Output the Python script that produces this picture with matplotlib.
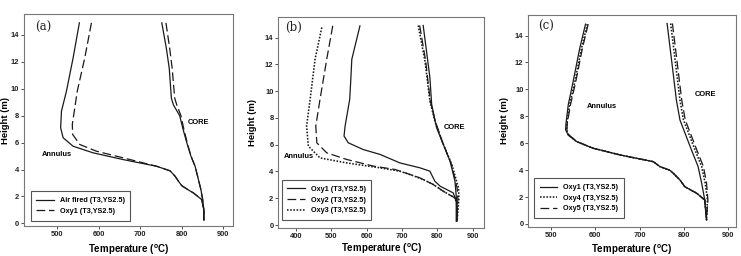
import matplotlib
matplotlib.use("Agg")
import matplotlib.pyplot as plt

plt.rcParams['font.family'] = ['Liberation Sans', 'DejaVu Sans']
plt.rcParams['font.weight'] = 'bold'

# ---------------- Panel (a) ----------------
a_air_ann_h = [14.9, 12.3, 9.83, 8.34, 7.1, 6.36, 5.73, 5.24, 4.74, 4.24, 3.9, 3.5, 3.13, 2.8, 2.5, 2.26, 1.76, 1.0, 0.25]
a_air_ann_t = [554, 539, 523, 511, 509, 515, 539, 587, 659, 740, 772, 784, 792, 800, 815, 828, 848, 853, 853]
a_oxy1_ann_h = [14.9, 12.3, 9.83, 7.35, 6.6, 5.86, 5.36, 4.87, 4.24, 3.9, 3.5, 3.13, 2.8, 2.5, 2.26, 1.76, 1.0, 0.25]
a_oxy1_ann_t = [583, 567, 549, 537, 538, 555, 595, 659, 740, 772, 784, 792, 800, 815, 828, 848, 853, 853]
a_air_core_h = [14.9, 13.0, 11.5, 9.3, 8.8, 8.0, 7.0, 6.0, 5.0, 4.24, 3.5, 2.5, 1.8, 1.0, 0.25]
a_air_core_t = [752, 763, 770, 775, 780, 795, 803, 812, 822, 832, 838, 846, 850, 853, 853]
a_oxy1_core_h = [14.9, 13.0, 11.5, 9.3, 8.8, 8.0, 7.0, 6.0, 5.0, 4.24, 3.5, 2.5, 1.8, 1.0, 0.25]
a_oxy1_core_t = [762, 771, 777, 783, 788, 798, 805, 813, 822, 832, 838, 846, 850, 853, 853]

# ---------------- Panel (b) ----------------
b_oxy1_ann_h = [14.87, 12.38, 10.8, 9.38, 7.39, 6.64, 6.14, 5.64, 5.27, 4.64, 4.27, 4.02, 3.27, 2.9, 2.4, 1.77, 0.28]
b_oxy1_ann_t = [581, 558, 555, 552, 539, 536, 548, 590, 638, 694, 751, 779, 793, 808, 845, 854, 854]
b_oxy2_ann_h = [14.87, 12.38, 9.38, 7.39, 6.14, 5.39, 4.9, 4.4, 4.15, 3.89, 3.52, 3.02, 2.52, 2.02, 1.5, 0.28]
b_oxy2_ann_t = [504, 487, 468, 456, 459, 487, 543, 619, 680, 710, 751, 789, 817, 850, 856, 856]
b_oxy3_ann_h = [14.75, 12.38, 9.38, 7.39, 5.89, 5.01, 4.64, 4.27, 4.02, 3.7, 3.4, 3.02, 2.52, 2.02, 1.5, 0.28]
b_oxy3_ann_t = [473, 454, 440, 430, 435, 468, 543, 638, 694, 730, 760, 789, 817, 850, 856, 856]
b_oxy1_core_h = [14.9, 11.0, 9.0, 7.26, 6.02, 4.77, 3.27, 2.0, 0.28]
b_oxy1_core_t = [760, 779, 784, 798, 817, 836, 850, 854, 854]
b_oxy2_core_h = [14.9, 12.25, 9.26, 7.76, 6.02, 4.52, 2.77, 2.0, 0.28]
b_oxy2_core_t = [750, 767, 780, 794, 817, 840, 856, 858, 856]
b_oxy3_core_h = [14.9, 12.25, 9.26, 7.76, 6.02, 4.52, 2.77, 2.0, 0.28]
b_oxy3_core_t = [746, 765, 779, 793, 817, 841, 860, 861, 856]

# ---------------- Panel (c) ----------------
c_oxy1_ann_h = [14.85, 13.06, 10.58, 8.85, 7.5, 7.0, 6.6, 6.12, 5.63, 5.13, 4.63, 4.26, 4.0, 3.77, 3.27, 2.77, 2.28, 1.78, 0.3]
c_oxy1_ann_t = [578, 565, 550, 539, 534, 533, 539, 558, 595, 656, 731, 746, 768, 776, 791, 802, 829, 847, 851]
c_oxy4_ann_t = [582, 569, 554, 542, 536, 535, 540, 558, 595, 656, 731, 746, 768, 776, 791, 802, 829, 847, 851]
c_oxy5_ann_t = [584, 571, 556, 544, 537, 536, 541, 559, 595, 656, 731, 746, 768, 776, 791, 802, 829, 847, 851]
c_oxy1_core_h = [14.9, 12.2, 9.2, 7.73, 5.5, 4.26, 3.03, 1.78, 0.3]
c_oxy1_core_t = [762, 772, 783, 791, 817, 832, 840, 847, 851]
c_oxy4_core_t = [770, 780, 791, 799, 825, 840, 848, 853, 851]
c_oxy5_core_t = [774, 784, 795, 803, 829, 844, 851, 854, 851]

x_ticks_a = [500, 600, 700, 800, 900]
x_ticks_b = [400, 500, 600, 700, 800, 900]
x_ticks_c = [500, 600, 700, 800, 900]
y_ticks = [0, 2, 4, 6, 8, 10, 12, 14]

LC = '#1a1a1a'
LW = 0.9
DASH = (0, (7, 3))
DOT = (0, (1, 1))

fig = plt.figure(figsize=(7.41, 2.56), dpi=100)
ax_a = fig.add_axes([0.0324, 0.117, 0.282, 0.828])
ax_b = fig.add_axes([0.3756, 0.1105, 0.278, 0.824])
ax_c = fig.add_axes([0.713, 0.1145, 0.280, 0.828])


def style(ax, xlim, xticks, letter, lpos, ylab_x, xlab_y):
    ax.set_xlim(*xlim)
    ax.set_ylim(-0.2, 15.55)
    ax.set_xticks(xticks)
    ax.set_yticks(y_ticks)
    ax.tick_params(direction='out', length=2, width=0.6, labelsize=5.4, pad=1.5, colors='#333333')
    for lab in ax.get_xticklabels() + ax.get_yticklabels():
        lab.set_fontweight('bold')
        lab.set_color('#222222')
    for s in ax.spines.values():
        s.set_color('#777777')
        s.set_linewidth(0.8)
    ax.set_xlabel('Temperature ($\\mathregular{^o}$C)', fontsize=7, fontweight='bold')
    ax.set_ylabel('Height (m)', fontsize=6.8, fontweight='bold')
    ax.xaxis.set_label_coords(0.5, xlab_y)
    ax.yaxis.set_label_coords(ylab_x, 0.5)
    ax.text(lpos[0], lpos[1], letter, transform=ax.transAxes, fontsize=8.5,
            family='DejaVu Serif', fontweight='normal', ha='center', va='center', color='#222222')


# Panel a
ax_a.plot(a_air_ann_t, a_air_ann_h, color=LC, lw=LW, ls='-', label='Air fired (T3,YS2.5)')
ax_a.plot(a_oxy1_ann_t, a_oxy1_ann_h, color=LC, lw=LW, ls=DASH, label='Oxy1 (T3,YS2.5)')
ax_a.plot(a_air_core_t, a_air_core_h, color=LC, lw=LW, ls='-')
ax_a.plot(a_oxy1_core_t, a_oxy1_core_h, color=LC, lw=LW, ls=DASH)
style(ax_a, (421, 923), x_ticks_a, '(a)', (0.094, 0.935), -0.067, -0.076)
ax_a.text(841, 7.5, 'CORE', fontsize=5.4, fontweight='bold', ha='center', va='center')
ax_a.text(500, 5.1, 'Annulus', fontsize=5.4, fontweight='bold', ha='center', va='center')

# Panel b
ax_b.plot(b_oxy1_ann_t, b_oxy1_ann_h, color=LC, lw=LW, ls='-', label='Oxy1 (T3,YS2.5)')
ax_b.plot(b_oxy2_ann_t, b_oxy2_ann_h, color=LC, lw=LW, ls=DASH, label='Oxy2 (T3,YS2.5)')
ax_b.plot(b_oxy3_ann_t, b_oxy3_ann_h, color=LC, lw=1.15, ls=DOT, label='Oxy3 (T3,YS2.5)')
ax_b.plot(b_oxy1_core_t, b_oxy1_core_h, color=LC, lw=LW, ls='-')
ax_b.plot(b_oxy2_core_t, b_oxy2_core_h, color=LC, lw=LW, ls=DASH)
ax_b.plot(b_oxy3_core_t, b_oxy3_core_h, color=LC, lw=1.15, ls=DOT)
style(ax_b, (350, 933), x_ticks_b, '(b)', (0.075, 0.95), -0.103, -0.066)
ax_b.text(850, 7.3, 'CORE', fontsize=5.4, fontweight='bold', ha='center', va='center')
ax_b.text(408, 5.1, 'Annulus', fontsize=5.4, fontweight='bold', ha='center', va='center')

# Panel c
ax_c.plot(c_oxy1_ann_t, c_oxy1_ann_h, color=LC, lw=LW, ls='-', label='Oxy1 (T3,YS2.5)')
ax_c.plot(c_oxy4_ann_t, c_oxy1_ann_h, color=LC, lw=1.15, ls=DOT, label='Oxy4 (T3,YS2.5)')
ax_c.plot(c_oxy5_ann_t, c_oxy1_ann_h, color=LC, lw=LW, ls=DASH, label='Oxy5 (T3,YS2.5)')
ax_c.plot(c_oxy1_core_t, c_oxy1_core_h, color=LC, lw=LW, ls='-')
ax_c.plot(c_oxy4_core_t, c_oxy1_core_h, color=LC, lw=1.15, ls=DOT)
ax_c.plot(c_oxy5_core_t, c_oxy1_core_h, color=LC, lw=LW, ls=DASH)
style(ax_c, (449, 917), x_ticks_c, '(c)', (0.084, 0.943), -0.095, -0.074)
ax_c.text(849, 9.6, 'CORE', fontsize=5.4, fontweight='bold', ha='center', va='center')
ax_c.text(616, 8.7, 'Annulus', fontsize=5.4, fontweight='bold', ha='center', va='center')

for ax, anchor in ((ax_a, (0.032, 0.026)), (ax_b, (0.016, 0.036)), (ax_c, (0.027, 0.04))):
    leg = ax.legend(loc='lower left', bbox_to_anchor=anchor, borderaxespad=0,
                    prop={'size': 5.2, 'weight': 'bold', 'family': 'Liberation Sans'},
                    fancybox=False, framealpha=1, edgecolor='#555555',
                    handlelength=2.4, handletextpad=0.8, borderpad=0.8, labelspacing=0.5)
    leg.get_frame().set_linewidth(0.8)

fig.savefig('out.png', dpi=100)
